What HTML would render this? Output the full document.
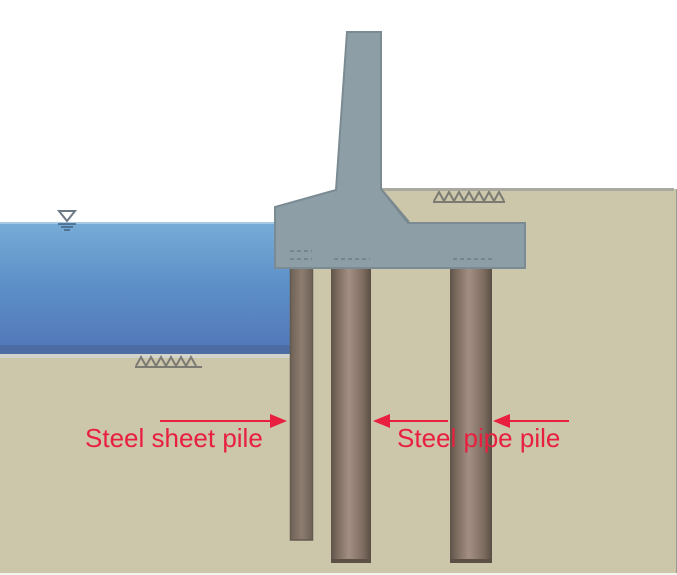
<!DOCTYPE html>
<html><head><meta charset="utf-8"><style>
html,body{margin:0;padding:0;background:#fff;}
svg{display:block;}
</style></head><body>
<svg width="677" height="575" viewBox="0 0 677 575" xmlns="http://www.w3.org/2000/svg">
<defs>
<linearGradient id="water" x1="0" y1="0" x2="0" y2="1">
<stop offset="0" stop-color="#78acd7"/>
<stop offset="0.45" stop-color="#5e91c8"/>
<stop offset="1" stop-color="#5176b8"/>
</linearGradient>
<linearGradient id="pipe" x1="0" y1="0" x2="1" y2="0">
<stop offset="0" stop-color="#5f5349"/>
<stop offset="0.15" stop-color="#7a6a5e"/>
<stop offset="0.45" stop-color="#a38e83"/>
<stop offset="0.8" stop-color="#7e6c60"/>
<stop offset="1" stop-color="#5a4e44"/>
</linearGradient>
<linearGradient id="sheet" x1="0" y1="0" x2="1" y2="0">
<stop offset="0" stop-color="#6e6156"/>
<stop offset="0.5" stop-color="#8d7d70"/>
<stop offset="1" stop-color="#6e6156"/>
</linearGradient>
</defs>
<rect width="677" height="575" fill="#fff"/>
<!-- ground -->
<rect x="381" y="189" width="296" height="384" fill="#ccc6aa"/>
<rect x="290" y="250" width="100" height="323" fill="#ccc6aa"/>
<rect x="0" y="356" width="300" height="217" fill="#ccc6aa"/>
<rect x="381" y="188" width="293" height="3" fill="#a8a99f"/>
<rect x="676" y="189" width="1" height="384" fill="#9a9a92"/>
<!-- water -->
<rect x="0" y="222" width="290" height="132" fill="url(#water)"/>
<rect x="0" y="222" width="290" height="2" fill="#a6c8e2"/>
<rect x="0" y="345" width="290" height="9" fill="#4e6ca4"/>
<rect x="0" y="354" width="290" height="4" fill="#d2d4cc"/>
<!-- water level symbol -->
<path d="M59,211 L75,211 L67,221 Z" fill="none" stroke="#6d7a86" stroke-width="2"/>
<path d="M58,224 L76,224 M61,227 L73,227 M64,230 L70,230" stroke="#3f607e" stroke-width="1.5"/>
<!-- grass hatch left -->
<g stroke="#7b7b74" stroke-width="2" fill="none">
<path d="M135,367 L202,367"/>
<path d="M136,366 l5,-9 l5,9 M146,366 l5,-9 l5,9 M156,366 l5,-9 l5,9 M166,366 l5,-9 l5,9 M176,366 l5,-9 l5,9 M186,366 l5,-9 l5,9"/>
</g>
<g stroke="#7b7b74" stroke-width="2" fill="none">
<path d="M433,202 L505,202"/>
<path d="M434,201 l5,-9 l5,9 M444,201 l5,-9 l5,9 M454,201 l5,-9 l5,9 M464,201 l5,-9 l5,9 M474,201 l5,-9 l5,9 M484,201 l5,-9 l5,9 M494,201 l5,-9 l5,9"/>
</g>
<!-- piles -->
<rect x="290.5" y="266" width="22" height="274" fill="url(#sheet)" stroke="#655a50" stroke-width="1.5"/>
<rect x="331" y="266" width="40" height="297" fill="url(#pipe)"/>
<rect x="450" y="266" width="42" height="297" fill="url(#pipe)"/>
<rect x="331" y="559" width="40" height="4" fill="#5c5046"/>
<rect x="450" y="559" width="42" height="4" fill="#5c5046"/>
<!-- abutment -->
<path d="M347,32 L381,32 L381,189 L408,223 L525,223 L525,268 L275,268 L275,207 L336,190 Z" fill="#8d9ea6" stroke="#7b8b93" stroke-width="2"/>
<path d="M382,190 L409,222" stroke="#7a8990" stroke-width="2"/>
<!-- dashes in footing -->
<g stroke="#6f7e86" stroke-width="1.5" stroke-dasharray="4,3">
<path d="M290,251 L312,251"/>
<path d="M290,259 L312,259"/>
<path d="M334,259 L370,259"/>
<path d="M453,259 L492,259"/>
</g>
<!-- arrows -->
<g stroke="#e81f3e" stroke-width="2" fill="#e81f3e">
<path d="M160,421 L272,421"/>
<path d="M287,421 L270,414 L270,428 Z" stroke="none"/>
<path d="M388,421 L448,421"/>
<path d="M373,421 L390,414 L390,428 Z" stroke="none"/>
<path d="M508,421 L569,421"/>
<path d="M493,421 L510,414 L510,428 Z" stroke="none"/>
</g>
<g font-family="'Liberation Sans', sans-serif" font-size="26" fill="#e81f3e">
<text x="85" y="447">Steel sheet pile</text>
<text x="397" y="447">Steel pipe pile</text>
</g>
<rect x="0" y="573" width="677" height="2" fill="#f4f4f0"/>
</svg>
</body></html>
